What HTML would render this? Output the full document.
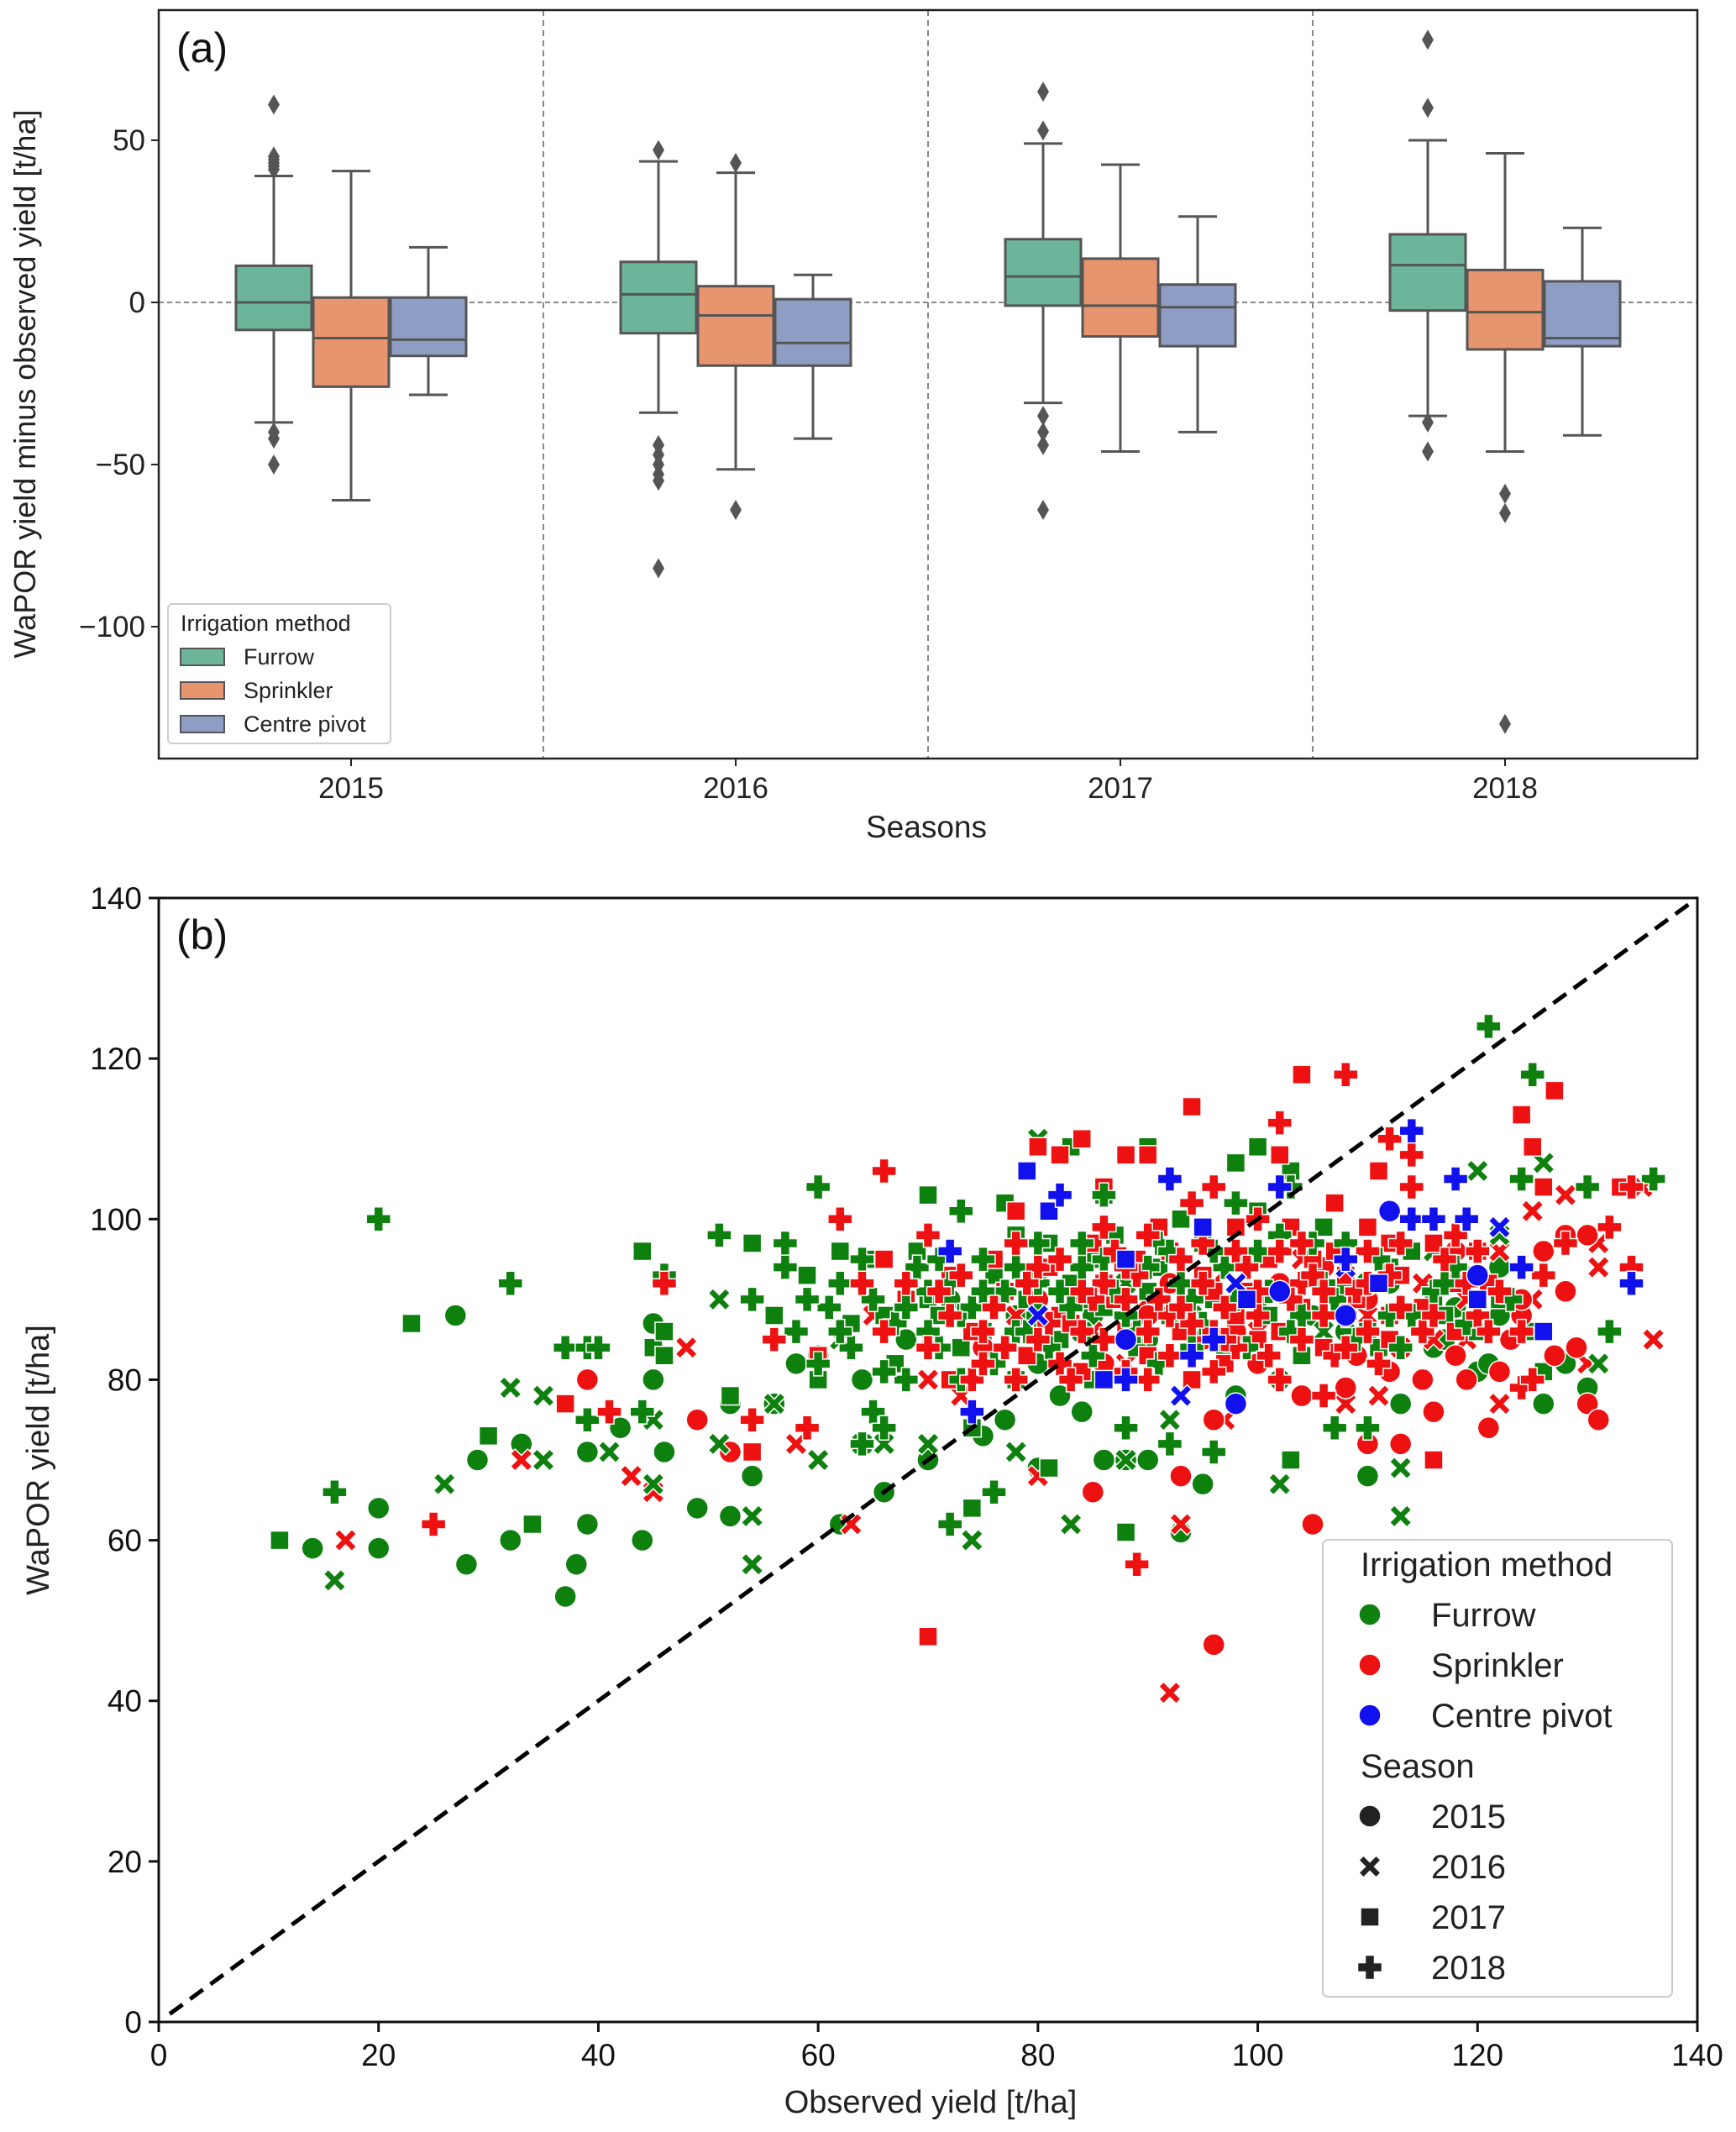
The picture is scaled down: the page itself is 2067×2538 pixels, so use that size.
<!DOCTYPE html>
<html><head><meta charset="utf-8"><style>
html,body{margin:0;padding:0;background:#fff;}
svg{display:block;font-family:"Liberation Sans","DejaVu Sans",sans-serif;}
</style></head><body>
<svg id="fig" width="2067" height="2538" viewBox="0 0 2067 2538" xmlns="http://www.w3.org/2000/svg">
<g id="topPanel"></g>
<g id="botPanel"></g>
</svg>
<script>
// ---------- Panel (a) data ----------
const seasons = ["2015","2016","2017","2018"];
const methods = ["Furrow","Sprinkler","Centre pivot"];
const methodColors = ["#6cb59b","#e7956e","#8e9dc4"];
// [whiskerLow, q1, median, q3, whiskerHigh] per season, per method
const furrowBoxes = [[-37,-8.5,0,11.3,39],[-34,-9.5,2.5,12.5,43.5],[-31,-1,8,19.5,49],[-35,-2.5,11.5,21,50]];
const sprinklerBoxes = [[-61,-26,-11,1.5,40.5],[-51.5,-19.5,-4,5,40],[-46,-10.5,-1,13.5,42.5],[-46,-14.5,-3,10,46]];
const pivotBoxes = [[-28.5,-16.5,-11.5,1.5,17],[-42,-19.5,-12.5,1,8.5],[-40,-13.5,-1.5,5.5,26.5],[-41,-13.5,-11,6.5,23]];
const furrowOutliers = [[61,45,44,43,42,41,-40,-42,-50],[47,-44,-47,-50,-53,-55,-82],[65,53,-35,-40,-44,-64],[81,60,-37,-46]];
const sprinklerOutliers = [[],[43,-64],[],[-59,-65,-130]];
const pivotOutliers = [[],[],[],[]];
const topYTicks = [50,0,-50,-100];

// ---------- Panel (b) data ----------
const furrow2015 = [[14,59],[20,59],[20,64],[27,88],[28,57],[29,70],[32,60],[33,72],[37,53],[38,57],[39,62],[39,71],[42,74],[44,60],[45,87],[45,80],[46,71],[49,64],[52,63],[52,77],[54,68],[56,77],[60,83],[62,62],[66,66],[70,70],[75,73],[77,75],[80,69],[82,78],[84,76],[86,70],[88,70],[90,70],[93,61],[95,67],[98,78],[102,80],[110,68],[113,77],[116,84],[117,85],[120,81],[121,82],[122,88],[126,77],[130,79],[112,92],[105,88],[100,90],[90,85],[85,88],[80,82],[78,88],[72,90],[68,85],[64,80],[58,82],[108,86],[118,89],[122,94],[128,82]];
const sprinkler2015 = [[39,80],[49,75],[52,71],[85,66],[96,47],[93,68],[96,75],[105,62],[110,72],[112,81],[113,72],[115,80],[116,76],[118,83],[119,80],[121,74],[122,81],[124,88],[124,90],[126,96],[127,83],[128,91],[128,98],[129,84],[130,98],[130,77],[131,75],[108,79],[104,78],[100,82],[95,85],[90,88],[86,82],[80,90],[75,84],[106,94],[110,90],[102,92],[98,86],[92,92],[118,96],[123,85],[109,83]];
const pivot2015 = [[98,77],[112,101],[108,88],[120,93],[88,85],[102,91]];
const furrow2016 = [[16,55],[26,67],[32,79],[35,78],[35,70],[41,71],[45,67],[45,75],[51,72],[51,90],[54,63],[54,57],[56,77],[60,70],[64,72],[66,72],[70,72],[74,60],[78,71],[80,110],[83,62],[88,70],[92,75],[102,67],[113,69],[113,63],[120,106],[122,98],[126,107],[131,82],[84,86],[76,90],[88,92],[94,88],[100,95],[110,92],[116,96],[70,85],[62,85],[106,86]];
const sprinkler2016 = [[17,60],[33,70],[43,68],[45,66],[48,84],[58,72],[63,62],[73,78],[80,68],[92,41],[93,62],[97,75],[108,77],[111,78],[113,84],[116,85],[119,85],[122,77],[122,96],[125,101],[126,104],[128,103],[130,82],[131,97],[131,94],[136,85],[135,104],[85,86],[78,88],[90,90],[100,86],[96,92],[104,95],[88,82],[70,80],[65,88],[110,88],[115,92],[119,90],[125,90]];
const pivot2016 = [[93,78],[98,92],[108,94],[122,99],[80,88]];
const furrow2017 = [[11,60],[23,87],[30,73],[34,62],[44,96],[45,84],[46,86],[46,83],[52,78],[54,97],[59,93],[62,96],[65,95],[70,103],[74,74],[74,64],[77,102],[81,69],[83,109],[86,103],[88,61],[90,109],[98,107],[100,109],[103,106],[103,70],[110,86],[112,94],[116,90],[120,86],[125,86],[126,81],[70,90],[75,86],[80,93],[85,95],[90,91],[95,97],[100,101],[105,95],[66,88],[60,80],[56,88],[78,98],[84,90],
 [63,87],[67,82],[69,96],[71,88],[73,84],[76,93],[78,80],[79,90],[81,97],[82,85],[83,92],[85,80],[86,89],[87,98],[89,84],[91,94],[92,88],[93,100],[96,90],[97,84],[99,95],[101,88],[104,83],[106,99],[108,91],[111,84],[114,96],[117,88],[119,93],[122,90]];
const sprinkler2017 = [[37,77],[54,71],[60,83],[70,48],[72,80],[78,101],[79,106],[80,109],[82,108],[84,110],[86,104],[88,108],[90,108],[94,114],[96,91],[102,108],[104,118],[105,95],[107,102],[111,106],[112,97],[116,70],[120,96],[124,113],[125,109],[126,104],[127,116],[133,104],[86,92],[82,88],[92,96],[98,88],[108,93],[100,85],[76,95],[72,93],[66,95],[112,88],[118,92],[68,90],[88,86],[94,80],
 [74,86],[77,91],[79,83],[81,94],[83,87],[84,81],[85,97],[87,90],[89,95],[90,83],[91,99],[93,86],[95,93],[97,82],[98,99],[99,91],[101,95],[102,86],[103,99],[104,89],[106,84],[107,96],[109,90],[110,99],[112,85],[113,93],[115,89],[116,97],[118,86],[121,92]];
const pivot2017 = [[79,106],[81,101],[86,80],[95,99],[99,90],[111,92],[126,86],[120,90],[88,95]];
const furrow2018 = [[16,66],[20,100],[32,92],[37,84],[39,84],[39,75],[40,84],[44,76],[46,93],[51,98],[54,90],[57,97],[57,94],[56,85],[60,104],[60,82],[64,72],[65,76],[66,74],[70,91],[72,62],[73,88],[73,101],[76,66],[80,97],[82,103],[86,103],[88,74],[91,97],[92,72],[96,71],[98,102],[103,104],[104,88],[107,74],[110,74],[113,84],[116,91],[121,124],[124,105],[125,118],[130,104],[132,86],[136,105],[68,80],[62,92],[78,86],[84,94],[94,90],[100,96],[106,92],[112,88],[118,94],[123,90],
 [58,86],[61,89],[63,84],[65,90],[67,87],[69,94],[71,84],[72,92],[74,89],[75,95],[76,82],[77,91],[79,86],[80,92],[81,84],[83,89],[84,97],[85,83],[87,91],[89,86],[90,94],[91,82],[93,92],[95,87],[97,94],[99,84],[101,91],[103,86],[105,97],[107,90],[109,85],[111,95],[114,88],[117,92],[119,87],
 [59,90],[62,86],[64,95],[66,81],[68,89],[70,86],[71,95],[73,80],[75,91],[78,94],[80,88],[82,91],[86,95],[88,88],[92,96],[94,84],[96,96],[98,90],[102,98],[108,97]];
const sprinkler2018 = [[25,62],[41,76],[46,92],[54,75],[56,85],[59,74],[62,100],[64,92],[66,106],[66,86],[68,92],[70,98],[75,86],[78,80],[82,82],[86,92],[89,57],[90,98],[92,88],[94,102],[96,104],[98,96],[100,100],[102,112],[106,78],[108,118],[110,96],[112,110],[114,108],[114,104],[116,100],[118,98],[120,96],[124,79],[125,80],[128,97],[132,99],[134,104],[134,94],[72,88],[80,94],[84,86],[88,90],[96,86],[104,92],[108,88],[119,92],[126,93],
 [70,84],[73,93],[74,80],[76,89],[77,84],[79,92],[81,87],[82,95],[83,80],[85,90],[86,85],[87,96],[88,81],[89,93],[90,86],[91,90],[92,83],[93,95],[94,87],[95,92],[96,81],[97,89],[98,84],[99,94],[100,88],[101,83],[102,96],[103,90],[104,85],[105,93],[106,88],[107,83],[109,91],[110,86],[111,82],[112,93],[113,89],[115,86],[117,95],[120,88],[122,91],[124,86],
 [71,91],[75,82],[78,97],[80,85],[84,91],[86,99],[88,94],[90,80],[93,89],[95,97],[97,85],[100,91],[102,80],[104,97],[106,91],[108,84],[110,92],[113,97],[116,88],[121,86]];
const pivot2018 = [[72,96],[82,103],[92,105],[94,83],[96,85],[102,104],[108,95],[114,111],[114,100],[116,100],[118,105],[119,100],[124,94],[134,92],[74,76],[88,80]];
const xTicks = [0,20,40,60,80,100,120,140];
const yTicks = [0,20,40,60,80,100,120,140];

const NS="http://www.w3.org/2000/svg";
function mk(parent,tag,attrs,text){const e=document.createElementNS(NS,tag);for(const k in attrs)e.setAttribute(k,attrs[k]);if(text!==undefined)e.textContent=text;parent.appendChild(e);return e;}

// ===== Panel (a) =====
const topG=document.getElementById('topPanel');
const A={l:189,r:2021,t:12,b:903};
const ay=v=>360-v*3.86;
const groupW=(A.r-A.l)/4;
const gx=i=>A.l+groupW*(i+0.5);
const boxW=92;
for(let i=1;i<4;i++){const x=A.l+groupW*i;
 const s=mk(topG,'line',{x1:x,y1:A.t,x2:x,y2:A.b,stroke:'#888','stroke-width':2,'stroke-dasharray':'7,5'});
 
 }
const zl=mk(topG,'line',{x1:A.l,y1:ay(0),x2:A.r,y2:ay(0),stroke:'#888','stroke-width':2,'stroke-dasharray':'6,4'});


const allBoxes=[furrowBoxes,sprinklerBoxes,pivotBoxes];
const allOut=[furrowOutliers,sprinklerOutliers,pivotOutliers];
const LC='#555';
for(let s=0;s<4;s++){for(let m=0;m<3;m++){
 const cx=gx(s)+(m-1)*boxW; const d=allBoxes[m][s];
 const g=mk(topG,'g',{});
 
 
 mk(g,'line',{x1:cx,y1:ay(d[4]),x2:cx,y2:ay(d[3]),stroke:LC,'stroke-width':3});
 mk(g,'line',{x1:cx,y1:ay(d[1]),x2:cx,y2:ay(d[0]),stroke:LC,'stroke-width':3});
 mk(g,'line',{x1:cx-boxW/4,y1:ay(d[4]),x2:cx+boxW/4,y2:ay(d[4]),stroke:LC,'stroke-width':3});
 mk(g,'line',{x1:cx-boxW/4,y1:ay(d[0]),x2:cx+boxW/4,y2:ay(d[0]),stroke:LC,'stroke-width':3});
 mk(g,'rect',{x:cx-boxW/2+1,y:ay(d[3]),width:boxW-2,height:ay(d[1])-ay(d[3]),fill:methodColors[m],stroke:LC,'stroke-width':3});
 mk(g,'line',{x1:cx-boxW/2+1,y1:ay(d[2]),x2:cx+boxW/2-1,y2:ay(d[2]),stroke:LC,'stroke-width':3});
 for(const o of allOut[m][s]){const y=ay(o);
  const p=mk(g,'path',{d:`M${cx},${y-12} L${cx+7},${y} L${cx},${y+12} L${cx-7},${y} Z`,fill:LC});
  
  }
}}
const fr=mk(topG,'rect',{x:A.l,y:A.t,width:A.r-A.l,height:A.b-A.t,fill:'none',stroke:'#222','stroke-width':2.5});


for(const v of topYTicks){const y=ay(v);
 mk(topG,'line',{x1:A.l-9,y1:y,x2:A.l,y2:y,stroke:'#222','stroke-width':2});
 const t=mk(topG,'text',{x:A.l-16,y:y+12,'text-anchor':'end','font-size':35,fill:'#222'},v<0?'\u2212'+(-v):String(v));
 
 }
for(let s=0;s<4;s++){const x=gx(s);
 mk(topG,'line',{x1:x,y1:A.b,x2:x,y2:A.b+9,stroke:'#222','stroke-width':2});
 const t=mk(topG,'text',{x:x,y:950,'text-anchor':'middle','font-size':35,fill:'#222'},seasons[s]);
 
 }
let tx=mk(topG,'text',{x:1103,y:997,'text-anchor':'middle','font-size':37,fill:'#222'},'Seasons');


tx=mk(topG,'text',{x:0,y:0,'text-anchor':'middle','font-size':36,fill:'#222',transform:'translate(42,457) rotate(-90)'},'WaPOR yield minus observed yield [t/ha]');


tx=mk(topG,'text',{x:210,y:74,'font-size':50,fill:'#111'},'(a)');


const lg=mk(topG,'g',{});


mk(lg,'rect',{x:200,y:719,width:265,height:166,rx:5,fill:'#fff',stroke:'#ccc','stroke-width':2});
mk(lg,'text',{x:215,y:751,'font-size':27,fill:'#222'},'Irrigation method');
for(let m=0;m<3;m++){const y=782+m*40;
 const e=mk(lg,'g',{});
 
 
 mk(e,'rect',{x:215,y:y-10,width:52,height:20,fill:methodColors[m],stroke:LC,'stroke-width':2});
 mk(e,'text',{x:290,y:y+9,'font-size':27,fill:'#222'},methods[m]);}

// ===== Panel (b) =====
const botG=document.getElementById('botPanel');
const B={l:189,r:2021,t:1069,b:2407};
const bx=v=>B.l+v*(B.r-B.l)/140;
const by=v=>B.b-v*(B.b-B.t)/140;
const GREEN='#0e800e',RED='#ee1111',BLUE='#1111ee';
function marker(parent,shape,x,y,col){
 let e;
 if(shape==='o') e=mk(parent,'circle',{cx:x,cy:y,r:13,fill:col,stroke:'#fff','stroke-width':1.5});
 else if(shape==='s') e=mk(parent,'rect',{x:x-11,y:y-11,width:22,height:22,fill:col,stroke:'#fff','stroke-width':1.5});
 else if(shape==='x'){const a=5.5,b=13;
  e=mk(parent,'path',{d:`M${x-a},${y} L${x-b},${y-b+a} L${x-b+a},${y-b} L${x},${y-a} L${x+b-a},${y-b} L${x+b},${y-b+a} L${x+a},${y} L${x+b},${y+b-a} L${x+b-a},${y+b} L${x},${y+a} L${x-b+a},${y+b} L${x-b},${y+b-a} Z`,fill:col,stroke:'#fff','stroke-width':1.5});}
 else {const a=5.5,b=14.5;
  e=mk(parent,'path',{d:`M${x-a},${y-b} H${x+a} V${y-a} H${x+b} V${y+a} H${x+a} V${y+b} H${x-a} V${y+a} H${x-b} V${y-a} H${x-a} Z`,fill:col,stroke:'#fff','stroke-width':1.5});}
 return e;}
const series=[[furrow2015,'o',GREEN,'furrow-2015'],[sprinkler2016,'x',RED,'sprinkler-2016'],[furrow2017,'s',GREEN,'furrow-2017'],[sprinkler2015,'o',RED,'sprinkler-2015'],[furrow2016,'x',GREEN,'furrow-2016'],[sprinkler2017,'s',RED,'sprinkler-2017'],[furrow2018,'P',GREEN,'furrow-2018'],[sprinkler2018,'P',RED,'sprinkler-2018'],[pivot2015,'o',BLUE,'pivot-2015'],[pivot2016,'x',BLUE,'pivot-2016'],[pivot2017,'s',BLUE,'pivot-2017'],[pivot2018,'P',BLUE,'pivot-2018']];
for(const [arr,sh,col,name] of series){
 const g=mk(botG,'g',{});
 
 
 for(const p of arr){const m=marker(g,sh,bx(p[0]),by(p[1]),col);
  
  }}
const dl=mk(botG,'line',{x1:bx(1),y1:by(1),x2:bx(140),y2:by(140),stroke:'#000','stroke-width':5,'stroke-dasharray':'19,11'});


const fb=mk(botG,'rect',{x:B.l,y:B.t,width:B.r-B.l,height:B.b-B.t,fill:'none',stroke:'#111','stroke-width':3});


for(const v of xTicks){const x=bx(v);
 mk(botG,'line',{x1:x,y1:B.b,x2:x,y2:B.b+12,stroke:'#111','stroke-width':3});
 const tt=mk(botG,'text',{x:x,y:2459,'text-anchor':'middle','font-size':37,fill:'#111'},String(v));
 
 }
for(const v of yTicks){const y=by(v);
 mk(botG,'line',{x1:B.l-12,y1:y,x2:B.l,y2:y,stroke:'#111','stroke-width':3});
 const tt=mk(botG,'text',{x:B.l-20,y:y+13,'text-anchor':'end','font-size':37,fill:'#111'},String(v));
 
 }
tx=mk(botG,'text',{x:1108,y:2515,'text-anchor':'middle','font-size':38,fill:'#222'},'Observed yield [t/ha]');


tx=mk(botG,'text',{x:0,y:0,'text-anchor':'middle','font-size':38,fill:'#222',transform:'translate(58,1738) rotate(-90)'},'WaPOR yield [t/ha]');


tx=mk(botG,'text',{x:210,y:1130,'font-size':50,fill:'#111'},'(b)');


const lb=mk(botG,'g',{});


mk(lb,'rect',{x:1575,y:1833,width:416,height:544,rx:6,fill:'#fff','fill-opacity':0.9,stroke:'#ccc','stroke-width':2});
const rows=[['title','Irrigation method'],['o','Furrow',GREEN],['o','Sprinkler',RED],['o','Centre pivot',BLUE],['title','Season'],['o','2015','#222'],['x','2016','#222'],['s','2017','#222'],['P','2018','#222']];
rows.forEach((r,i)=>{const y=1862+i*60;
 if(r[0]==='title'){mk(lb,'text',{x:1620,y:y+14,'font-size':40,fill:'#222'},r[1]);return;}
 const e=mk(lb,'g',{});
 
 
 marker(e,r[0],1631,y,r[2]);
 mk(e,'text',{x:1704,y:y+14,'font-size':40,fill:'#222'},r[1]);});
</script>
</body></html>
